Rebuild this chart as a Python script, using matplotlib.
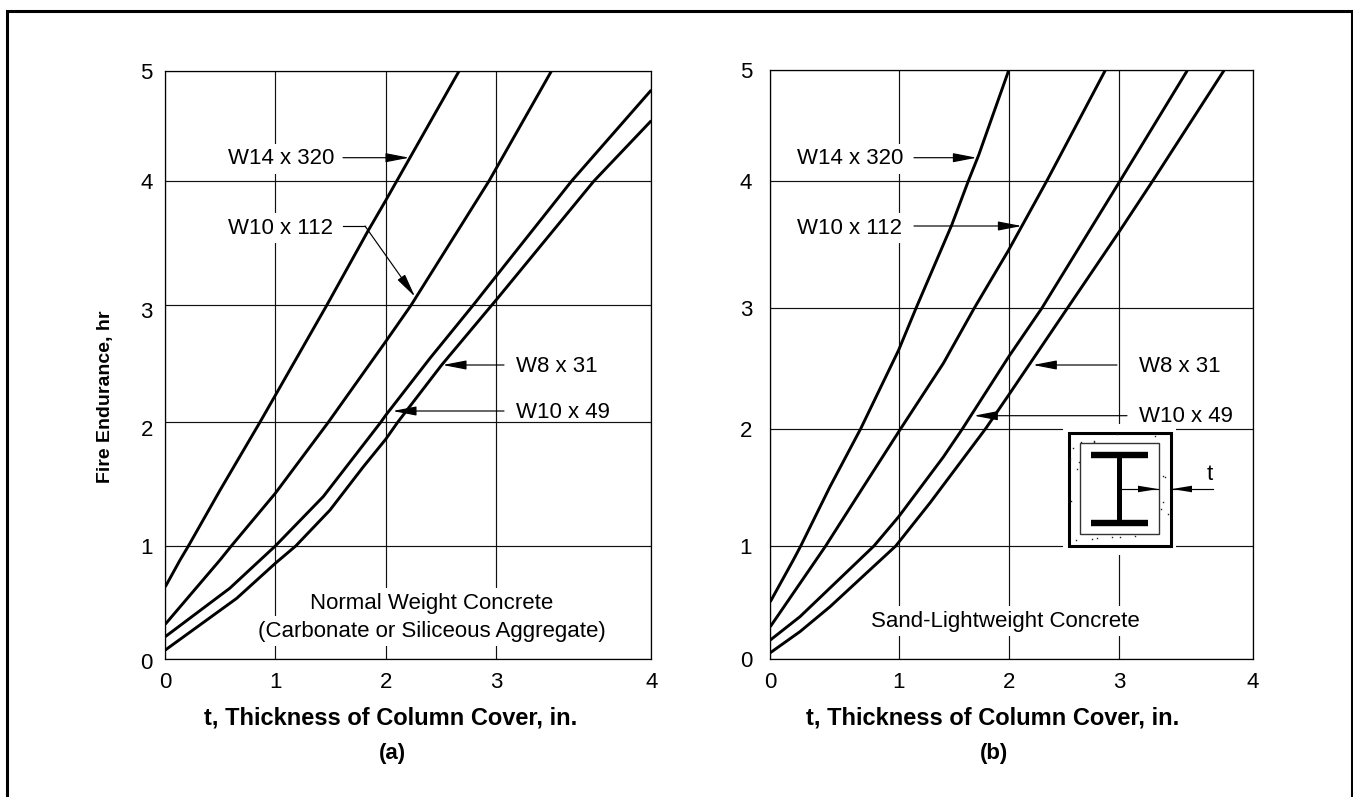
import numpy as np
import matplotlib
matplotlib.use('Agg')
import matplotlib.pyplot as plt
from matplotlib.lines import Line2D
from matplotlib.patches import Rectangle
from matplotlib.transforms import ScaledTranslation

plt.rcParams['font.family'] = ['Liberation Sans', 'DejaVu Sans']

W, H = 1353, 797

x_ticks = [0, 1, 2, 3, 4]
y_ticks = [0, 1, 2, 3, 4, 5]

# the printed grid is not evenly spaced, so each panel has its own pixel positions
a_x_px = [165.3, 275.3, 385.7, 496.3, 651.3]
a_y_px = [659.3, 546.0, 422.3, 305.3, 181.0, 70.7]
b_x_px = [770.3, 898.7, 1008.7, 1119.3, 1252.7]
b_y_px = [659.3, 546.0, 428.7, 308.3, 181.0, 70.4]

# panel (a) normal weight concrete
a_w14_t = [0, 0.134, 0.21, 0.497, 0.86, 1.0, 1.466, 1.837, 2.0, 2.10, 2.665]
a_w14_h = [0.64, 0.876, 1.0, 1.45, 2.0, 2.23, 3.0, 3.594, 3.843, 4.0, 5.0]
a_w112_t = [0, 0.497, 0.60, 1.0, 1.48, 2.0, 2.229, 2.934, 3.0, 3.357]
a_w112_h = [0.31, 0.876, 1.0, 1.426, 2.0, 2.69, 3.0, 4.0, 4.116, 5.0]
a_w31_t = [0, 0.586, 1.0, 1.435, 1.955, 2.0, 2.4, 2.79, 3.0, 3.486, 4.0]
a_w31_h = [0.2, 0.627, 1.0, 1.40, 2.0, 2.06, 2.547, 3.0, 3.236, 4.0, 4.825]
a_w49_t = [0, 0.649, 1.0, 1.185, 1.495, 1.797, 2.0, 2.108, 2.506, 2.958, 3.0, 3.63, 4.0]
a_w49_h = [0.082, 0.538, 0.847, 1.0, 1.29, 1.64, 1.863, 2.0, 2.49, 3.0, 3.044, 4.0, 4.547]

# panel (b) sand-lightweight concrete
b_w14_t = [0, 0.179, 0.237, 0.465, 0.704, 1.0, 1.157, 1.482, 1.633, 1.727, 2.0]
b_w14_h = [0.508, 0.876, 1.0, 1.506, 2.0, 2.654, 3.0, 3.654, 4.0, 4.234, 5.0]
b_w112_t = [0, 0.356, 0.431, 0.724, 1.0, 1.406, 1.686, 2.0, 2.344, 2.873]
b_w112_h = [0.288, 0.876, 1.0, 1.503, 1.974, 2.543, 3.0, 3.458, 4.0, 5.0]
b_w31_t = [0, 0.231, 0.807, 1.0, 1.406, 1.58, 2.0, 2.299, 3.005, 3.51]
b_w31_h = [0.17, 0.376, 1.0, 1.25, 1.759, 2.0, 2.598, 3.0, 4.0, 5.0]
b_w49_t = [0, 0.231, 0.465, 0.977, 1.284, 1.79, 2.0, 2.53, 3.0, 3.25, 3.785]
b_w49_h = [0.058, 0.244, 0.464, 1.0, 1.367, 2.0, 2.28, 3.0, 3.603, 4.0, 5.0]

# specks of aggregate in the column cover
speck_x = [1073, 1070, 1079, 1117, 1155, 1094, 1094, 1077, 1071, 1097, 1112, 1120, 1135,
           1092, 1165, 1163, 1161, 1168, 1163, 1081, 1076]
speck_y = [448, 459, 462, 434, 436, 441, 442, 469, 501, 538, 537, 537, 536,
           539, 477, 502, 509, 514, 476, 442, 540]


def fx(x):
    return x / W


def fy(y):
    return 1 - y / H


def scale_funcs(vals, pix):
    pix = np.array(pix)
    if pix[0] > pix[-1]:
        pix = -pix
    return (lambda v: np.interp(v, vals, pix),
            lambda p: np.interp(p, pix, vals))


def make_panel(x_px, y_px):
    ax = fig.add_axes([fx(x_px[0]), fy(y_px[0]), fx(x_px[-1]) - fx(x_px[0]), (y_px[0] - y_px[-1]) / H])
    ax.set_xscale('function', functions=scale_funcs(x_ticks, x_px))
    ax.set_yscale('function', functions=scale_funcs(y_ticks, y_px))
    ax.set_xlim(0, 4)
    ax.set_ylim(0, 5)
    ax.set_xticks(x_ticks)
    ax.set_yticks(y_ticks)
    ax.minorticks_off()
    ax.grid(True, color='#111111', lw=0.85)
    ax.set_axisbelow(True)
    for s in ax.spines.values():
        s.set_linewidth(0.9)
    ax.tick_params(length=0, labelsize=16, pad=9)
    return ax


def curve(ax, t, h):
    ax.plot(t, h, color='black', lw=2.1, solid_capstyle='butt', zorder=3)


def arrow(ax, x0, y0, x1, y1):
    ax.annotate('', xy=(fx(x1), fy(y1)), xytext=(fx(x0), fy(y0)),
                xycoords=fig.transFigure, textcoords=fig.transFigure,
                arrowprops=dict(arrowstyle='-|>,head_length=1.45,head_width=0.28', color='black',
                                lw=0.85, shrinkA=0, shrinkB=0, mutation_scale=10), zorder=4)


def label(x, y, s, masked=False, ha='left'):
    bbox = dict(fc='white', ec='none', pad=3) if masked else None
    fig.text(fx(x), fy(y), s, fontsize=16, ha=ha, va='center', bbox=bbox, zorder=3)


fig = plt.figure(figsize=(W / 100, H / 100), dpi=100)

# outer frame, runs off the bottom edge
fig.add_artist(Rectangle((fx(6.5), -0.02), fx(1351.5) - fx(6.5), fy(10.5) + 0.02, fill=False,
                         ec='black', lw=2.2, transform=fig.transFigure))

ax_a = make_panel(a_x_px, a_y_px)
ax_b = make_panel(b_x_px, b_y_px)
ax_b.tick_params(axis='y', pad=13)

# a couple of the left-hand numbers sit lower than their grid lines
for lab, dy in zip(ax_a.get_yticklabels(), [2, 0, 6, 5, 0, 0]):
    lab.set_transform(lab.get_transform() + ScaledTranslation(0, -dy / 100, fig.dpi_scale_trans))

curve(ax_a, a_w14_t, a_w14_h)
curve(ax_a, a_w112_t, a_w112_h)
curve(ax_a, a_w31_t, a_w31_h)
curve(ax_a, a_w49_t, a_w49_h)
curve(ax_b, b_w14_t, b_w14_h)
curve(ax_b, b_w112_t, b_w112_h)
curve(ax_b, b_w31_t, b_w31_h)
curve(ax_b, b_w49_t, b_w49_h)

# arrows, panel a
arrow(ax_a, 343, 157.7, 409.3, 157.7)
fig.add_artist(Line2D([fx(343), fx(365)], [fy(226), fy(226)], color='black', lw=0.85))
arrow(ax_a, 365, 226, 415, 296.7)
arrow(ax_a, 504, 365, 442.7, 365)
arrow(ax_a, 504, 411, 392.7, 411)
# arrows, panel b
arrow(ax_b, 914, 157.7, 976.7, 157.7)
arrow(ax_b, 914, 226, 1021.7, 226)
arrow(ax_b, 1117, 365, 1033, 365)
arrow(ax_b, 1127, 415.7, 974, 415.7)

label(228.3, 159, 'W14 x 320', masked=True)
label(228.3, 228, 'W10 x 112', masked=True)
label(516, 366, 'W8 x 31')
label(516, 412, 'W10 x 49')
label(796.7, 159, 'W14 x 320', masked=True)
label(796.7, 228, 'W10 x 112', masked=True)
label(1139, 366, 'W8 x 31')
label(1139, 416, 'W10 x 49')

label(432, 603, 'Normal Weight Concrete', masked=True, ha='center')
label(432, 631, '(Carbonate or Siliceous Aggregate)', masked=True, ha='center')
label(1005, 621, 'Sand-Lightweight Concrete', masked=True, ha='center')

# column section inset
fig.add_artist(Rectangle((fx(1063), fy(555)), (1176 - 1063) / W, (555 - 424) / H, fc='white', ec='none',
                         transform=fig.transFigure, zorder=2))
fig.add_artist(Rectangle((fx(1068.5), fy(546)), (1171 - 1068.5) / W, (546 - 432.5) / H, fc='white', ec='black',
                         lw=2.2, transform=fig.transFigure, zorder=2.1))
fig.add_artist(Rectangle((fx(1080.3), fy(534)), (1159 - 1080.3) / W, (534 - 443.3) / H, fc='none', ec='#333333',
                         lw=1.0, transform=fig.transFigure, zorder=2.2))
for yy in [455.3, 523.3]:
    fig.add_artist(Line2D([fx(1090.7), fx(1148.3)], [fy(yy), fy(yy)], color='black', lw=4.6,
                          solid_capstyle='butt', zorder=2.3))
fig.add_artist(Line2D([fx(1119), fx(1119)], [fy(455), fy(523)], color='black', lw=3.6,
                      solid_capstyle='butt', zorder=2.3))
fig.add_artist(Line2D([fx(v) for v in speck_x], [fy(v) for v in speck_y], ls='none', marker='s', ms=1.0,
                      color='#222222', mew=0, zorder=2.3))


def top_arrow(x0, x1, y):
    fig.add_artist(Line2D([fx(x0), fx(x1)], [fy(y), fy(y)], color='black', lw=0.85, zorder=2.4))
    sign = 1 if x1 > x0 else -1
    tri = plt.Polygon([(fx(x1), fy(y)), (fx(x1 - sign * 20), fy(y + 3.3)), (fx(x1 - sign * 20), fy(y - 3.3))],
                      closed=True, fc='black', ec='none', transform=fig.transFigure, zorder=2.5)
    fig.add_artist(tri)


top_arrow(1119, 1158, 489)
top_arrow(1213, 1172, 489)
fig.text(fx(1209.5), fy(475), 't', fontsize=16, ha='center', va='center', zorder=3)

# axis titles
for cx, name in [(391, '(a)'), (993, '(b)')]:
    fig.text(fx(cx), fy(718), 't, Thickness of Column Cover, in.', fontsize=17, fontweight='bold', ha='center', va='center')
    fig.text(fx(cx + 1), fy(753), name, fontsize=16, fontweight='bold', ha='center', va='center')
fig.text(fx(106), fy(397), 'Fire Endurance, hr', fontsize=14, fontweight='bold', rotation=90, ha='center', va='center')

fig.savefig('out.png', dpi=100)
